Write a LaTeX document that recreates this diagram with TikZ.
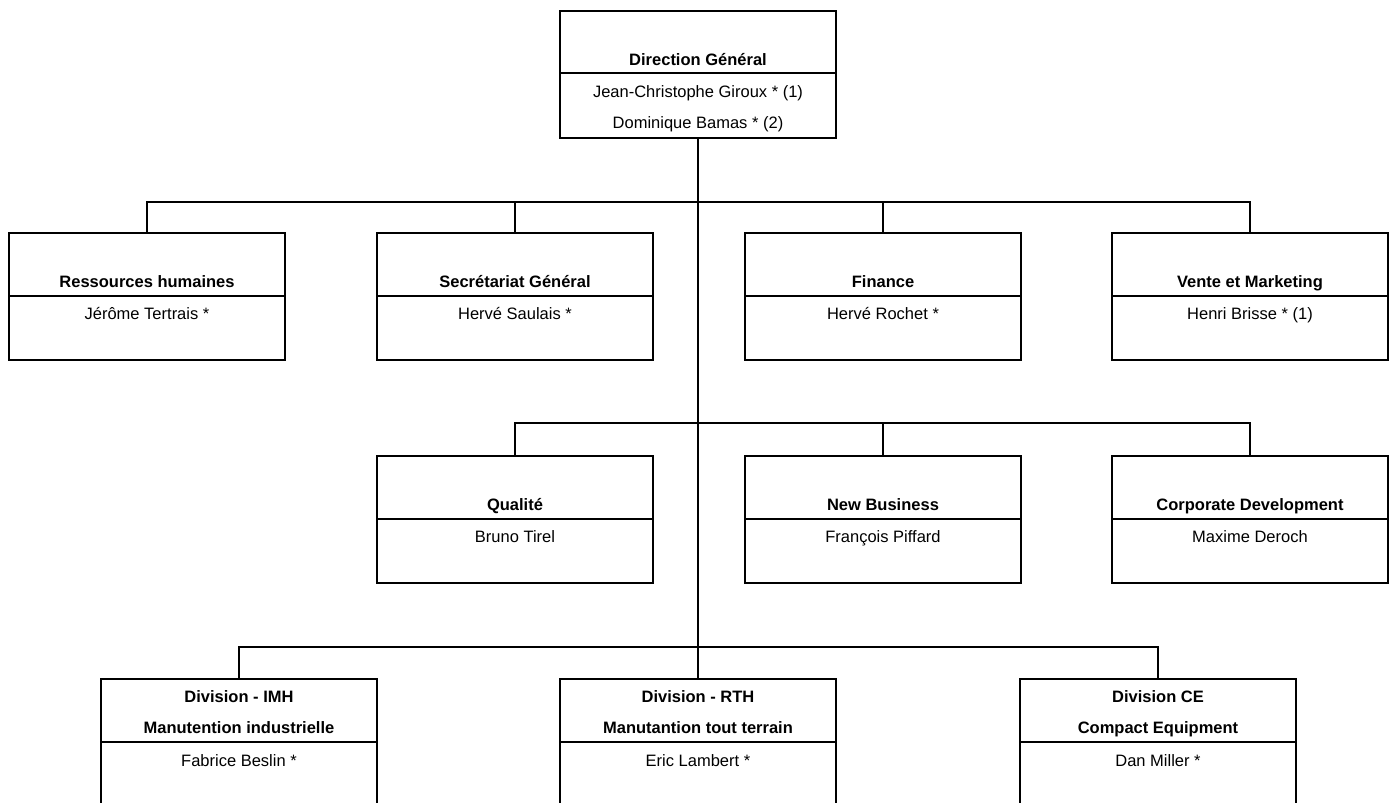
\documentclass[tikz,border=0pt]{standalone}
\usepackage{fontspec}
\setmainfont{Liberation Sans}
\usetikzlibrary{calc}
\tikzset{
  orgbox/.style={draw, line width=2.8pt, minimum width=276pt, minimum height=127pt,
                 anchor=north west, inner sep=0pt, outer sep=0pt},
  ttl/.style={anchor=base, font=\fontsize{16.5}{19}\selectfont\bfseries, inner sep=0pt},
  nm/.style={anchor=base, font=\fontsize{16.5}{19}\selectfont, inner sep=0pt},
  wire/.style={line width=2.8pt},
}
\newcommand\unitbox[5]{%
  \node[orgbox] (#1) at (#2,#3) {};
  \draw[wire] ($(#1.north west)+(0,63)$) -- ($(#1.north east)+(0,63)$);
  \node[ttl] (#1-t) at ($(#1.north)+(0,54)$) {#4};
  \node[nm] (#1-n) at ($(#1.north)+(0,86)$) {#5};
}
\begin{document}
\begin{tikzpicture}[x=1pt,y=-1pt]
\useasboundingbox (0,0) rectangle (1392,803);
\clip (0,0) rectangle (1392,803);
\fill[white] (0,0) rectangle (1392,803);

% top box
\node[orgbox] (dg) at (560,11) {};
\draw[wire] ($(dg.north west)+(0,62)$) -- ($(dg.north east)+(0,62)$);
\node[ttl] (dg-t) at ($(dg.north)+(0,54)$) {Direction Général};
\node[nm] (dg-n1) at ($(dg.north)+(0,86)$) {Jean-Christophe Giroux * (1)};
\node[nm] (dg-n2) at ($(dg.north)+(0,117)$) {Dominique Bamas * (2)};

% row 1
\unitbox{rh}{9}{233}{Ressources humaines}{Jérôme Tertrais *}
\unitbox{sg}{377}{233}{Secrétariat Général}{Hervé Saulais *}
\unitbox{fi}{745}{233}{Finance}{Hervé Rochet *}
\unitbox{vm}{1112}{233}{Vente et Marketing}{Henri Brisse * (1)}

% row 2
\unitbox{qa}{377}{456}{Qualité}{Bruno Tirel}
\unitbox{nb}{745}{456}{New Business}{François Piffard}
\unitbox{cd}{1112}{456}{Corporate Development}{Maxime Deroch}

% row 3
\foreach \nm/\x/\ta/\tb/\pp in {imh/101/Division - IMH/Manutention industrielle/Fabrice Beslin *,
                               rth/560/Division - RTH/Manutantion tout terrain/Eric Lambert *,
                               ce/1020/Division CE/Compact Equipment/Dan Miller *}{
  \node[orgbox] (\nm) at (\x,679) {};
  \draw[wire] ($(\nm.north west)+(0,63)$) -- ($(\nm.north east)+(0,63)$);
  \node[ttl] (\nm-t1) at ($(\nm.north)+(0,23)$) {\ta};
  \node[ttl] (\nm-t2) at ($(\nm.north)+(0,54)$) {\tb};
  \node[nm] (\nm-n) at ($(\nm.north)+(0,87)$) {\pp};
}

% connectors
\coordinate (b1) at (0,202);
\coordinate (b2) at (0,423);
\coordinate (b3) at (0,647);
\draw[wire] (dg.south) -- (rth.north);
\draw[wire] (rh.north) -- (rh.north |- b1) -- (vm.north |- b1) -- (vm.north);
\draw[wire] (sg.north) -- (sg.north |- b1);
\draw[wire] (fi.north) -- (fi.north |- b1);
\draw[wire] (qa.north) -- (qa.north |- b2) -- (cd.north |- b2) -- (cd.north);
\draw[wire] (nb.north) -- (nb.north |- b2);
\draw[wire] (imh.north) -- (imh.north |- b3) -- (ce.north |- b3) -- (ce.north);
\end{tikzpicture}
\end{document}
